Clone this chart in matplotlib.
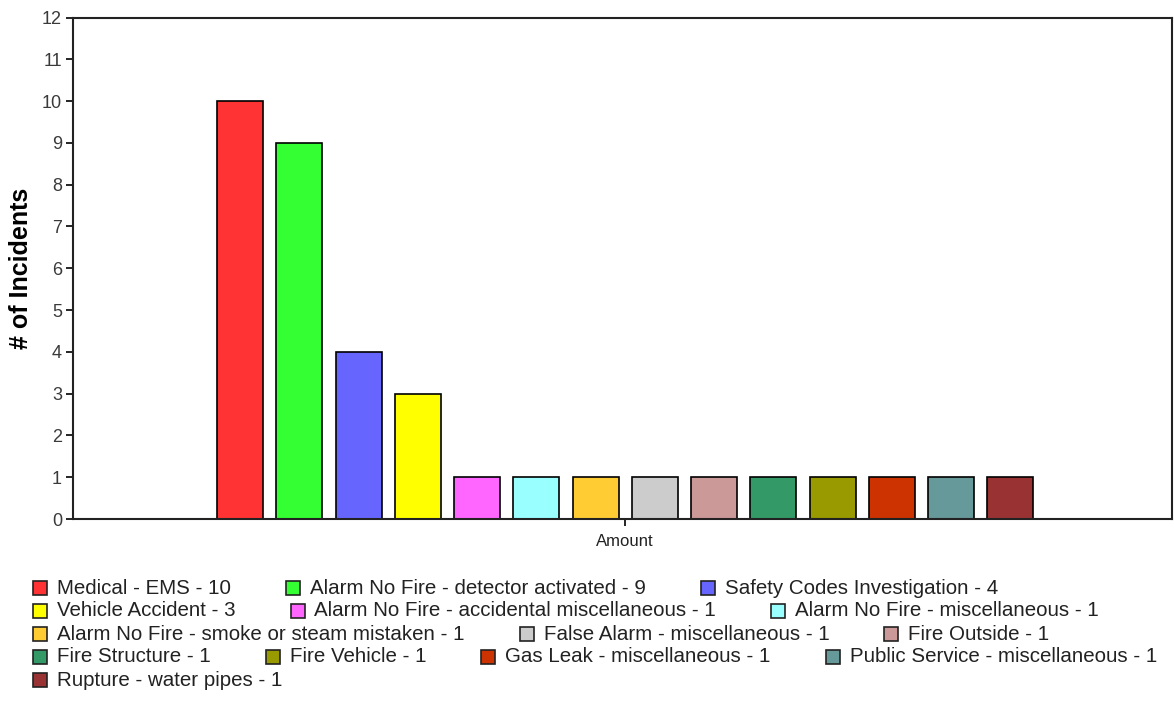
import matplotlib
matplotlib.use('Agg')
import matplotlib.pyplot as plt
from matplotlib.patches import Rectangle

plt.rcParams['font.family'] = ['Liberation Sans', 'DejaVu Sans']

# data
categories = [
    'Medical - EMS',
    'Alarm No Fire - detector activated',
    'Safety Codes Investigation',
    'Vehicle Accident',
    'Alarm No Fire - accidental miscellaneous',
    'Alarm No Fire - miscellaneous',
    'Alarm No Fire - smoke or steam mistaken',
    'False Alarm - miscellaneous',
    'Fire Outside',
    'Fire Structure',
    'Fire Vehicle',
    'Gas Leak - miscellaneous',
    'Public Service - miscellaneous',
    'Rupture - water pipes',
]
counts = [10, 9, 4, 3, 1, 1, 1, 1, 1, 1, 1, 1, 1, 1]
colors = ['#FF3333', '#33FF33', '#6666FF', '#FFFF00', '#FF66FF', '#99FFFF',
          '#FFCC33', '#CCCCCC', '#CC9999', '#339966', '#999900', '#CC3300',
          '#669999', '#993333']
x_label = 'Amount'
y_label = '# of Incidents'
legend_rows = [3, 3, 3, 4, 1]   # how many entries sit on each legend line

W, H = 1174, 710


def main():
    fig = plt.figure(figsize=(W / 100, H / 100), dpi=100)
    ax = fig.add_axes([73 / W, 1 - 519 / H, (1172 - 73) / W, (519 - 17.5) / H])

    xs = list(range(len(counts)))
    ax.bar(xs, counts, width=0.776, color=colors, edgecolor='black', linewidth=1.2)

    ax.set_xlim(-2.82, 15.73)
    ax.set_ylim(0, 12)
    ax.set_yticks(range(13))
    ax.set_xticks([(len(counts) - 1) / 2])
    ax.set_xticklabels([x_label])

    for sp in ax.spines.values():
        sp.set_linewidth(1.5)
        sp.set_color('#222222')
    ax.tick_params(axis='y', length=5, width=1.2, labelsize=13, labelcolor='#3a3a3a', pad=3)
    ax.tick_params(axis='x', length=5, width=1.2, labelsize=12, labelcolor='#222222', pad=6)

    ax.set_ylabel(y_label, fontsize=18, fontweight='bold', va='center')
    ax.yaxis.set_label_coords((21 - 73) / 1099, 0.5)

    # legend laid out as flowing lines, like the original
    renderer = fig.canvas.get_renderer()
    idx = 0
    for row, n in enumerate(legend_rows):
        yc = 588 + 23 * row
        xp = 33
        for _ in range(n):
            label = f'{categories[idx]} - {counts[idx]}'
            fig.patches.append(Rectangle((xp / W, 1 - (yc + 7) / H), 14 / W, 14 / H,
                                         transform=fig.transFigure, facecolor=colors[idx],
                                         edgecolor='#222222', linewidth=1.2))
            t = fig.text((xp + 24) / W, 1 - yc / H, label, fontsize=14.8,
                         color='#222222', ha='left', va='center')
            w = t.get_window_extent(renderer).width
            xp = xp + 24 + w + 55
            idx += 1

    fig.savefig('out.png', dpi=100)


if __name__ == '__main__':
    main()
